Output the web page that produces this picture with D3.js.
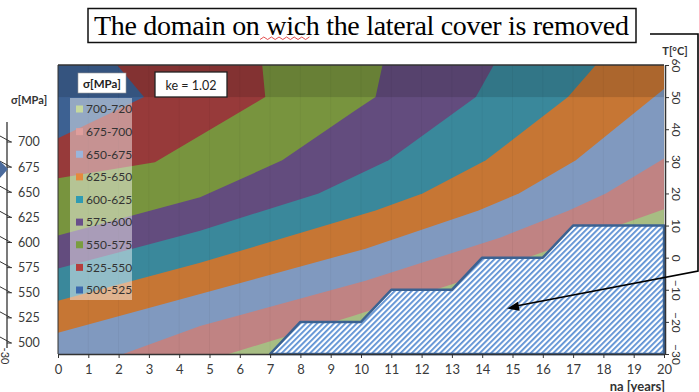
<!DOCTYPE html>
<html>
<head>
<meta charset="utf-8">
<title>Lateral cover domain</title>
<script src="https://cdnjs.cloudflare.com/ajax/libs/d3/7.8.5/d3.min.js"></script>
<style>
	body { margin: 0; background: #fff; }
	svg { display: block; }
</style>
</head>
<body>
<svg id="chart" width="699" height="392"></svg>
<script>
	// legend classes (top to bottom in the legend) and colours
	var levelLabels = ["700-720", "675-700", "650-675", "625-650", "600-625", "575-600", "550-575", "525-550", "500-525"];
	var bandColors = ["#a7bd83", "#c08383", "#8099bf", "#c67634", "#3a889b", "#634c7e", "#78943e", "#973a3a", "#3d6192"];
	var legendColors = ["#c6d99e", "#df9e9c", "#9ab5db", "#e5893d", "#2f9bb2", "#694f8b", "#7a9d40", "#b53d3d", "#3c6aae"];

	// contour lines [na, T] between the bands, from the 700 MPa line down to the 525 MPa line
	var line700 = [[5.42, -30.6], [9.65, -18.4], [13.06, -8.1], [20.07, 15.3]];
	var line675 = [[1.98, -30.6], [4.69, -21.3], [10.15, -7.2], [14.61, 6.3], [16.86, 14.7], [18.08, 20], [20.07, 31.3]];
	var line650 = [[0, -23.4], [4.69, -11.3], [10.15, 2.8], [13.88, 14.7], [15.21, 20], [17.09, 30.3], [20.07, 53.1]];
	var line625 = [[0, -13.4], [4.69, -1.6], [10.48, 14.7], [12.03, 20], [14.12, 30.3], [16.83, 50], [17.75, 60]];
	var line600 = [[0, -3.4], [4.69, 8.4], [8.6, 20], [10.91, 30.3], [13.79, 50], [14.38, 60]];
	var line575 = [[0, 6.9], [4.69, 18.8], [7.4, 30.3], [9.82, 45.9], [10.48, 50], [10.71, 60]];
	var line550 = [[0, 24.7], [3.2, 29.7], [6.84, 50], [6.74, 60]];
	var line525 = [[0, 37.2], [2.84, 50], [1.95, 60]];
	var contourLines = [line700, line675, line650, line625, line600, line575, line550, line525];

	// domain where the lateral cover is removed (step outline)
	var removedNa = [7, 8, 10, 11, 13, 14, 16, 17, 20, 20];
	var removedT = [-30, -20, -20, -10, -10, 0, 0, 10, 10, -30];

	var naTicks = d3.range(0, 21);
	var tTicks = [-30, -20, -10, 0, 10, 20, 30, 40, 50, 60];
	var sigmaTicks = [500, 525, 550, 575, 600, 625, 650, 675, 700];

	var svg = d3.select("#chart");
	var pL = 58, pR = 664, pT = 65, pB = 354;
	var x = d3.scaleLinear().domain([0, 20]).range([pL, pR]);
	var y = d3.scaleLinear().domain([-30, 60]).range([pB, pT]);
	var ySigma = d3.scaleLinear().domain([500, 700]).range([343, 142]);

	var defs = svg.append("defs");
	defs.append("clipPath").attr("id", "plotClip")
		.append("rect").attr("x", pL).attr("y", pT).attr("width", pR - pL).attr("height", pB - pT);
	defs.append("clipPath").attr("id", "labelClip")
		.append("rect").attr("x", 0).attr("y", 80).attr("width", 48).attr("height", 40);
	var hatch = defs.append("pattern").attr("id", "hatch")
		.attr("patternUnits", "userSpaceOnUse").attr("width", 4).attr("height", 4)
		.attr("patternTransform", "rotate(45)");
	hatch.append("rect").attr("width", 4).attr("height", 4).attr("fill", "#fff");
	hatch.append("rect").attr("width", 1.8).attr("height", 4).attr("fill", "#5b8fd3");

	var plot = svg.append("g").attr("clip-path", "url(#plotClip)");

	// lowest class fills the whole plot, each contour paints the next class above it
	plot.append("rect").attr("x", pL).attr("y", pT).attr("width", pR - pL).attr("height", pB - pT)
		.attr("fill", bandColors[0]);
	contourLines.forEach(function(pts, i) {
		var first = pts[0], last = pts[pts.length - 1];
		var poly = pts.concat([[last[0], 100], [-10, 100], [-10, first[1]]]);
		plot.append("path")
			.attr("d", "M" + poly.map(function(p) { return x(p[0]) + "," + y(p[1]); }).join("L") + "Z")
			.attr("fill", bandColors[i + 1]);
	});

	// darker top row of the surface
	plot.append("rect").attr("x", pL).attr("y", y(60)).attr("width", pR - pL).attr("height", y(50) - y(60))
		.attr("fill", "#000").attr("opacity", 0.13);
	// faint mesh lines of the surface
	naTicks.forEach(function(n) {
		plot.append("line").attr("x1", x(n)).attr("x2", x(n)).attr("y1", pT).attr("y2", pB)
			.attr("stroke", "#000").attr("stroke-opacity", 0.04);
	});

	// hatched domain
	var removedPts = removedNa.map(function(n, i) { return [x(n), y(removedT[i])]; });
	svg.append("path")
		.attr("d", "M" + removedPts.join("L") + "Z")
		.attr("fill", "url(#hatch)")
		.attr("stroke", "#3b6292").attr("stroke-width", 2.5).attr("stroke-linejoin", "round");

	// plot frame
	svg.append("line").attr("x1", pL).attr("x2", pR).attr("y1", pT).attr("y2", pT).attr("stroke", "#333").attr("stroke-width", 1.5);
	svg.append("line").attr("x1", pL).attr("x2", pL).attr("y1", pT).attr("y2", pB).attr("stroke", "#333").attr("stroke-width", 1);

	var axisFont = "Lato, 'Open Sans', sans-serif";

	// bottom axis
	var xAxis = svg.append("g").attr("transform", "translate(0," + pB + ")")
		.call(d3.axisBottom(x).tickValues(naTicks).tickSize(4).tickSizeOuter(0).tickPadding(7));
	xAxis.select(".domain").attr("stroke", "#333").attr("stroke-width", 1.5);
	xAxis.selectAll(".tick line").attr("stroke", "#333");
	xAxis.selectAll("text").attr("font-family", axisFont).attr("font-size", 13).attr("fill", "#3a3a3a");
	svg.append("text").attr("x", 665).attr("y", 390.5).attr("text-anchor", "end")
		.attr("font-family", axisFont).attr("font-size", 13).attr("font-weight", "bold").attr("fill", "#333")
		.text("na [years]");

	// right axis (T)
	var tAxis = svg.append("g").attr("transform", "translate(" + (pR + 1) + ",0)")
		.call(d3.axisRight(y).tickValues(tTicks).tickSize(4).tickSizeOuter(0));
	tAxis.select(".domain").attr("stroke", "#333").attr("stroke-width", 1.5);
	tAxis.selectAll(".tick line").attr("stroke", "#333");
	tAxis.selectAll("text")
		.attr("x", 0).attr("dy", 0).attr("y", 0)
		.attr("text-anchor", "middle").attr("dominant-baseline", "central")
		.attr("transform", "translate(11,0) rotate(90)")
		.attr("font-family", axisFont).attr("font-size", 12).attr("fill", "#333");
	svg.append("text").attr("x", 675).attr("y", 55).attr("text-anchor", "middle")
		.attr("font-family", axisFont).attr("font-size", 11).attr("font-weight", "bold").attr("fill", "#333")
		.text("T[°C]");

	// left sigma axis (cut from another figure)
	svg.append("line").attr("x1", 7).attr("x2", 7).attr("y1", 122).attr("y2", 348).attr("stroke", "#333").attr("stroke-width", 1.3);
	sigmaTicks.forEach(function(s) {
		var ty = ySigma(s);
		svg.append("line").attr("x1", 0).attr("y1", ty - 6).attr("x2", 11).attr("y2", ty)
			.attr("stroke", "#333").attr("stroke-width", 1);
		svg.append("line").attr("x1", 7).attr("y1", ty).attr("x2", 12).attr("y2", ty)
			.attr("stroke", "#333").attr("stroke-width", 1);
		svg.append("text").attr("x", 18).attr("y", ty).attr("dy", "0.35em")
			.attr("font-family", axisFont).attr("font-size", 12.5).attr("fill", "#3a3a3a")
			.text(s);
	});
	svg.append("path").attr("d", "M0,161L8,169L0,178Z").attr("fill", "#4a6a9c");
	svg.append("text").attr("x", 11).attr("y", 104).attr("clip-path", "url(#labelClip)")
		.attr("font-family", axisFont).attr("font-size", 11).attr("font-weight", "bold").attr("fill", "#333")
		.text("σ[MPa]");
	svg.append("text").attr("transform", "translate(5,356) rotate(90)").attr("text-anchor", "middle")
		.attr("dominant-baseline", "central")
		.attr("font-family", axisFont).attr("font-size", 11).attr("fill", "#333")
		.text("-30");

	// legend
	svg.append("rect").attr("x", 70).attr("y", 98).attr("width", 62).attr("height", 202)
		.attr("fill", "#fff").attr("opacity", 0.45);
	svg.append("rect").attr("x", 78).attr("y", 73).attr("width", 48).attr("height", 20)
		.attr("fill", "#fff").attr("stroke", "#999").attr("stroke-width", 0.6);
	svg.append("text").attr("x", 102).attr("y", 87.5).attr("text-anchor", "middle")
		.attr("font-family", axisFont).attr("font-size", 11.5).attr("font-weight", "bold").attr("fill", "#222")
		.text("σ[MPa]");
	var legendY = d3.scaleLinear().domain([0, 8]).range([109, 290]);
	levelLabels.forEach(function(lab, i) {
		svg.append("rect").attr("x", 76).attr("y", legendY(i) - 3.5).attr("width", 7).attr("height", 7)
			.attr("fill", legendColors[i]);
		svg.append("text").attr("x", 86).attr("y", legendY(i)).attr("dy", "0.36em")
			.attr("font-family", axisFont).attr("font-size", 12).attr("fill", "#333")
			.text(lab);
	});

	// ke box
	svg.append("rect").attr("x", 155).attr("y", 72).attr("width", 72).attr("height", 25)
		.attr("fill", "#fff").attr("stroke", "#222").attr("stroke-width", 1.3);
	svg.append("text").attr("x", 191).attr("y", 85).attr("dy", "0.36em").attr("text-anchor", "middle")
		.attr("font-family", axisFont).attr("font-size", 12.5).attr("fill", "#222")
		.text("ke = 1.02");

	// title box
	svg.append("rect").attr("x", 88).attr("y", 8.5).attr("width", 548).attr("height", 34)
		.attr("fill", "#fff").attr("stroke", "#111").attr("stroke-width", 1.5);
	svg.append("text").attr("x", 94).attr("y", 35)
		.attr("textLength", 535).attr("lengthAdjust", "spacing")
		.attr("font-family", "'Liberation Serif', 'Times New Roman', serif").attr("font-size", 28).attr("fill", "#000")
		.text("The domain on wich the lateral cover is removed");
	// spell-check squiggle under "wich"
	var squig = d3.range(0, 14).map(function(k) { return [260 + k * 3.8, k % 2 ? 37 : 39.5]; });
	svg.append("path").attr("d", "M" + squig.join("L")).attr("fill", "none").attr("stroke", "#e03a3a").attr("stroke-width", 0.9);

	// callout line and arrow
	svg.append("path").attr("d", "M650,34L698,34L698,271L516,306")
		.attr("fill", "none").attr("stroke", "#000").attr("stroke-width", 1.6);
	var ang = Math.atan2(308 - 271, 507 - 698);
	var tip = [507, 308.5], len = 12, half = 4.5;
	var bx = tip[0] - len * Math.cos(ang), by = tip[1] - len * Math.sin(ang);
	svg.append("path")
		.attr("d", "M" + tip + "L" + [bx - half * Math.sin(ang), by + half * Math.cos(ang)] + "L" + [bx + half * Math.sin(ang), by - half * Math.cos(ang)] + "Z")
		.attr("fill", "#000");
</script>
</body>
</html>
